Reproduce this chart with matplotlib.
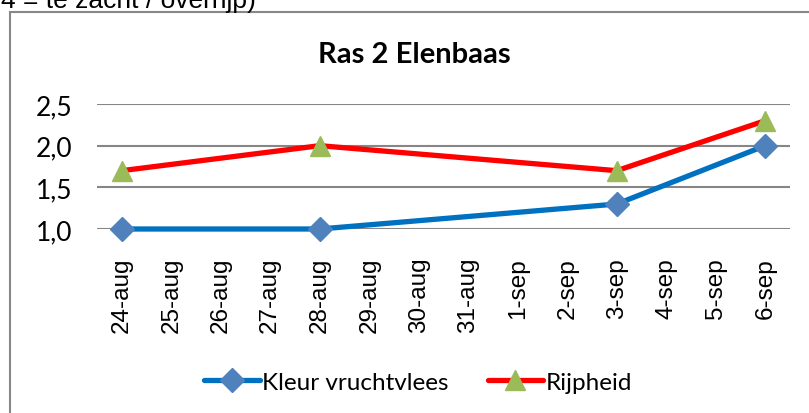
import matplotlib
matplotlib.use("Agg")
import matplotlib.pyplot as plt
from matplotlib.patches import Rectangle
from matplotlib.ticker import FuncFormatter

# categories (one per day) and measured values
dates = ["24-aug", "25-aug", "26-aug", "27-aug", "28-aug", "29-aug", "30-aug",
         "31-aug", "1-sep", "2-sep", "3-sep", "4-sep", "5-sep", "6-sep"]
meet_dagen = ["24-aug", "28-aug", "3-sep", "6-sep"]
kleur = [1.0, 1.0, 1.3, 2.0]
rijpheid = [1.7, 2.0, 1.7, 2.3]
y_ticks = [1.0, 1.5, 2.0, 2.5]

title = "Ras 2 Elenbaas"
boven_tekst = "4 = te zacht / overrijp)"

W, H = 809, 414
fig = plt.figure(figsize=(W / 100, H / 100), dpi=100)

# leftover text from the page above the chart, cut off at the top
fig.text(1 / W, 1 - 8 / H, boven_tekst, fontsize=19, family="Liberation Sans",
         va="baseline", ha="left")

# chart frame (runs off the right and bottom edges)
fig.patches.append(Rectangle((10 / W, -0.1), 1.2, 1 - 13 / H + 0.1,
                             transform=fig.transFigure, fill=False,
                             edgecolor="#888888", lw=1.5))

ax = fig.add_axes([97 / W, 1 - 230 / H, (790 - 97) / W, (230 - 105) / H])

x_pos = [dates.index(d) for d in meet_dagen]
ax.plot(x_pos, kleur, color="#0070C0", lw=3.8, marker="D", ms=12.5,
        mfc="#4F81BD", mec="#4F81BD", label="Kleur vruchtvlees", zorder=3,
        solid_capstyle="round")
ax.plot(x_pos, rijpheid, color="#FF0000", lw=3.8, marker="^", ms=15,
        mfc="#9BBB59", mec="#9BBB59", label="Rijpheid", zorder=3,
        solid_capstyle="round")

ax.set_xlim(-0.5, len(dates) - 0.5)
ax.set_ylim(1.0, 2.5)
ax.set_xticks(range(len(dates)))
ax.set_xticklabels(dates, rotation=90, family="Liberation Sans", fontsize=17.5)
ax.set_yticks(y_ticks)
ax.yaxis.set_major_formatter(FuncFormatter(lambda v, p: f"{v:.1f}".replace(".", ",")))
for lbl in ax.get_yticklabels():
    lbl.set_family("Lato")
    lbl.set_fontsize(19)
ax.tick_params(axis="x", length=0, pad=20)
ax.tick_params(axis="y", length=0, pad=18)
ax.grid(axis="y", color="#868686", lw=1.5)
ax.set_axisbelow(True)
for s in ax.spines.values():
    s.set_visible(False)
for ln in ax.lines:
    ln.set_clip_on(False)

fig.text(414 / W, 1 - 55 / H, title, fontsize=21, fontweight="bold",
         family="Lato", ha="center", va="center")

ax.legend(loc="center", bbox_to_anchor=(418 / W, 1 - 383 / H),
          bbox_transform=fig.transFigure, ncol=2, frameon=False,
          prop={"family": "Lato", "size": 17.5}, handlelength=2.3,
          handletextpad=0.1, columnspacing=1.6, numpoints=1)

fig.savefig("out.png", dpi=100)
